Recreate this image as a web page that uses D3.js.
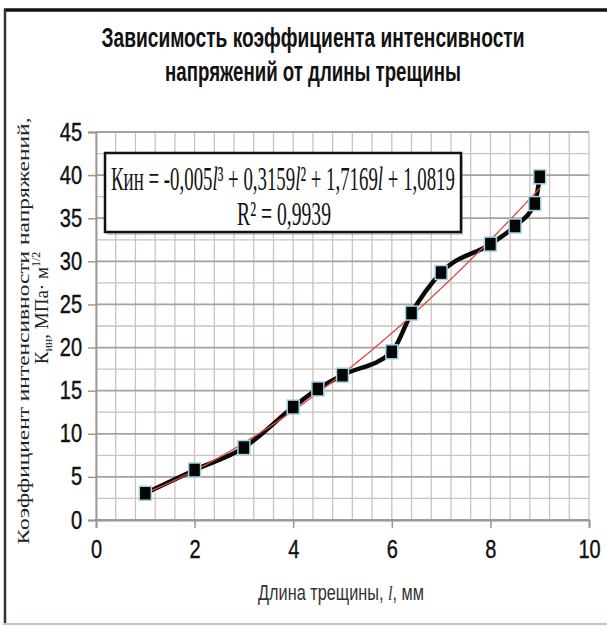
<!DOCTYPE html>
<html>
<head>
<meta charset="utf-8">
<script src="https://cdn.jsdelivr.net/npm/d3@7"></script>
<style>
  html, body { margin: 0; padding: 0; background: #fff; }
  #chart { width: 607px; height: 626px; }
</style>
</head>
<body>
<div id="chart"></div>
<script>
// -- Data ----------------------------------------------------------
var crackLen = [1, 2, 3, 4, 4.5, 5, 6, 6.4, 7, 8, 8.5, 8.9, 9];
var kValues  = [3.1, 5.8, 8.4, 13.1, 15.2, 16.8, 19.5, 24.0, 28.7, 32.0, 34.1, 36.7, 39.8];
// trendline shown in the chart: -0.005 l^3 + 0.3159 l^2 + 1.7169 l + 1.0819
var trendCoef = [-0.005, 0.3159, 1.7169, 1.0819];
var xTicks = [0, 2, 4, 6, 8, 10];
var yTicks = [0, 5, 10, 15, 20, 25, 30, 35, 40, 45];
var titleLines = ["Зависимость коэффициента интенсивности", "напряжений от длины трещины"];

(function () {
  var W = 607, H = 626;
  var margin = { top: 132, right: 18, bottom: 106, left: 96 };
  var innerW = 589 - margin.left;
  var innerH = 520 - margin.top;
  var NARROW = 0.8;   // the picture uses a condensed face

  var svg = d3.select("#chart").append("svg")
    .attr("width", W).attr("height", H);

  // squeeze a text horizontally so it spans `width` px, centred on cx
  function fitWidth(sel, cx, cy, width) {
    var natural = sel.node().getComputedTextLength();
    sel.attr("transform", "translate(" + cx + "," + cy + ") scale(" + (width / natural) + ",1)");
  }

  // outer frame
  svg.append("rect").attr("x", 0).attr("y", 0).attr("width", W).attr("height", H).attr("fill", "#fff");
  svg.append("line").attr("x1", 4).attr("x2", W).attr("y1", 10).attr("y2", 10)
    .attr("stroke", "#111").attr("stroke-width", 3.5);
  svg.append("line").attr("x1", 5).attr("x2", 5).attr("y1", 9).attr("y2", 625)
    .attr("stroke", "#333").attr("stroke-width", 2.5);
  svg.append("line").attr("x1", 4).attr("x2", W).attr("y1", 624).attr("y2", 624)
    .attr("stroke", "#b9c6d4").attr("stroke-width", 2);

  // title
  titleLines.forEach(function (t, i) {
    var tt = svg.append("text")
      .attr("text-anchor", "middle")
      .attr("font-family", "'Liberation Sans', Arial, sans-serif")
      .attr("font-weight", "bold")
      .attr("font-size", "28px")
      .attr("fill", "#111")
      .text(t);
    fitWidth(tt, 313, 47 + i * 34, i === 0 ? 423 : 296);
  });

  var x = d3.scaleLinear().domain([0, 10]).range([0, innerW]);
  var y = d3.scaleLinear().domain([0, 45]).range([innerH, 0]);

  var g = svg.append("g").attr("transform", "translate(" + margin.left + "," + margin.top + ")");

  // grid
  var grid = g.append("g");
  grid.selectAll("line.v").data(d3.range(0, 25 + 1).map(function (i) { return i * 0.4; }))
    .join("line")
      .attr("x1", function (d) { return x(d); }).attr("x2", function (d) { return x(d); })
      .attr("y1", 0).attr("y2", innerH)
      .attr("stroke", "#cbc2c2").attr("stroke-width", 1.3);
  grid.selectAll("line.h").data(d3.range(0, 19).map(function (i) { return i * 2.5; }))
    .join("line")
      .attr("x1", 0).attr("x2", innerW)
      .attr("y1", function (d) { return y(d); }).attr("y2", function (d) { return y(d); })
      .attr("stroke", function (d) { return d % 5 === 0 ? "#aa9e9e" : "#cbc2c2"; })
      .attr("stroke-width", function (d) { return d % 5 === 0 ? 1.8 : 1.3; });

  // axes
  var xAxis = g.append("g").attr("transform", "translate(0," + innerH + ")")
    .call(d3.axisBottom(x).tickValues(xTicks).tickSize(8).tickPadding(10).tickFormat(d3.format("d")));
  var yAxis = g.append("g")
    .call(d3.axisLeft(y).tickValues(yTicks).tickSize(8).tickPadding(6).tickFormat(d3.format("d")));
  [xAxis, yAxis].forEach(function (ax) {
    ax.select(".domain").attr("stroke", "#a09494").attr("stroke-width", 1.8);
    ax.selectAll(".tick line").attr("stroke", "#a09494").attr("stroke-width", 1.5);
    ax.selectAll(".tick text")
      .attr("font-family", "'Liberation Sans', Arial, sans-serif")
      .attr("font-size", "25px")
      .attr("fill", "#111")
      .attr("stroke", "#111").attr("stroke-width", 0.4);
  });
  xAxis.selectAll(".tick text").attr("dy", "0.8em")
    .attr("transform", "scale(" + NARROW + ",1)");
  yAxis.selectAll(".tick text")
    .attr("x", -14 / NARROW)
    .attr("transform", "scale(" + NARROW + ",1)");

  // trendline (from the chart's displayed equation)
  function poly(l) {
    return trendCoef[0] * l * l * l + trendCoef[1] * l * l + trendCoef[2] * l + trendCoef[3];
  }
  var trendX = d3.range(crackLen[0], crackLen[crackLen.length - 1] + 0.001, 0.05);

  // data line
  var pts = crackLen.map(function (d, i) { return [d, kValues[i]]; });
  g.append("path")
    .datum(pts)
    .attr("fill", "none")
    .attr("stroke", "#0a0a0a")
    .attr("stroke-width", 4.5)
    .attr("stroke-linejoin", "round")
    .attr("d", d3.line().curve(d3.curveMonotoneX)
      .x(function (d) { return x(d[0]); }).y(function (d) { return y(d[1]); }));

  g.append("path")
    .datum(trendX)
    .attr("fill", "none")
    .attr("stroke", "#e0473f")
    .attr("stroke-width", 1.3)
    .attr("d", d3.line().x(function (d) { return x(d); }).y(function (d) { return y(poly(d)); }));

  // markers
  g.append("g").selectAll("rect")
    .data(pts)
    .join("rect")
      .attr("x", function (d) { return x(d[0]) - 6; })
      .attr("y", function (d) { return y(d[1]) - 7; })
      .attr("width", 12).attr("height", 14)
      .attr("fill", "#050505")
      .attr("stroke", "#9fd6e6").attr("stroke-width", 1.5);

  // equation box
  var box = svg.append("g");
  box.append("rect").attr("x", 107).attr("y", 156).attr("width", 356).attr("height", 79)
    .attr("fill", "#999").attr("opacity", 0.5);
  box.append("rect").attr("x", 105).attr("y", 153).attr("width", 356).attr("height", 79)
    .attr("fill", "#fff").attr("stroke", "#111").attr("stroke-width", 2.5);
  var eq = box.append("text")
    .attr("text-anchor", "middle")
    .attr("font-family", "'Liberation Serif', 'Times New Roman', serif")
    .attr("font-size", "33px")
    .attr("fill", "#111");
  eq.append("tspan").text("Кин = -0,005");
  eq.append("tspan").attr("font-style", "italic").text("l");
  eq.append("tspan").text("³ + 0,3159");
  eq.append("tspan").attr("font-style", "italic").text("l");
  eq.append("tspan").text("² + 1,7169");
  eq.append("tspan").attr("font-style", "italic").text("l");
  eq.append("tspan").text(" + 1,0819");
  fitWidth(eq, 283, 190, 344);
  var r2 = box.append("text")
    .attr("text-anchor", "middle")
    .attr("font-family", "'Liberation Serif', 'Times New Roman', serif")
    .attr("font-size", "33px")
    .attr("fill", "#111")
    .text("R² = 0,9939");
  fitWidth(r2, 284, 225, 94);

  // x axis title
  var xt = svg.append("text")
    .attr("text-anchor", "middle")
    .attr("font-family", "'Liberation Sans', Arial, sans-serif")
    .attr("font-size", "22px")
    .attr("fill", "#333");
  xt.append("tspan").text("Длина трещины, ");
  xt.append("tspan").attr("font-style", "italic").attr("font-family", "'Liberation Serif', serif").text("l");
  xt.append("tspan").text(", мм");
  fitWidth(xt, 341, 600, 166);

  // y axis title (two lines, rotated)
  svg.append("text")
    .attr("transform", "translate(29,331) rotate(-90)")
    .attr("text-anchor", "middle")
    .attr("font-family", "'Liberation Serif', 'Times New Roman', serif")
    .attr("font-size", "17px")
    .attr("fill", "#222")
    .attr("textLength", 427)
    .attr("lengthAdjust", "spacingAndGlyphs")
    .text("Коэффициент интенсивности напряжений,");
  var yt2 = svg.append("text")
    .attr("transform", "translate(48,308) rotate(-90)")
    .attr("text-anchor", "middle")
    .attr("font-family", "'Liberation Serif', 'Times New Roman', serif")
    .attr("font-size", "19px")
    .attr("fill", "#222");
  yt2.append("tspan").text("К");
  yt2.append("tspan").attr("font-size", "12px").attr("dy", 4).text("ин");
  yt2.append("tspan").attr("dy", -4).text(", МПа· м");
  yt2.append("tspan").attr("font-size", "12px").attr("dy", -8).text("1/2");
})();
</script>
</body>
</html>
